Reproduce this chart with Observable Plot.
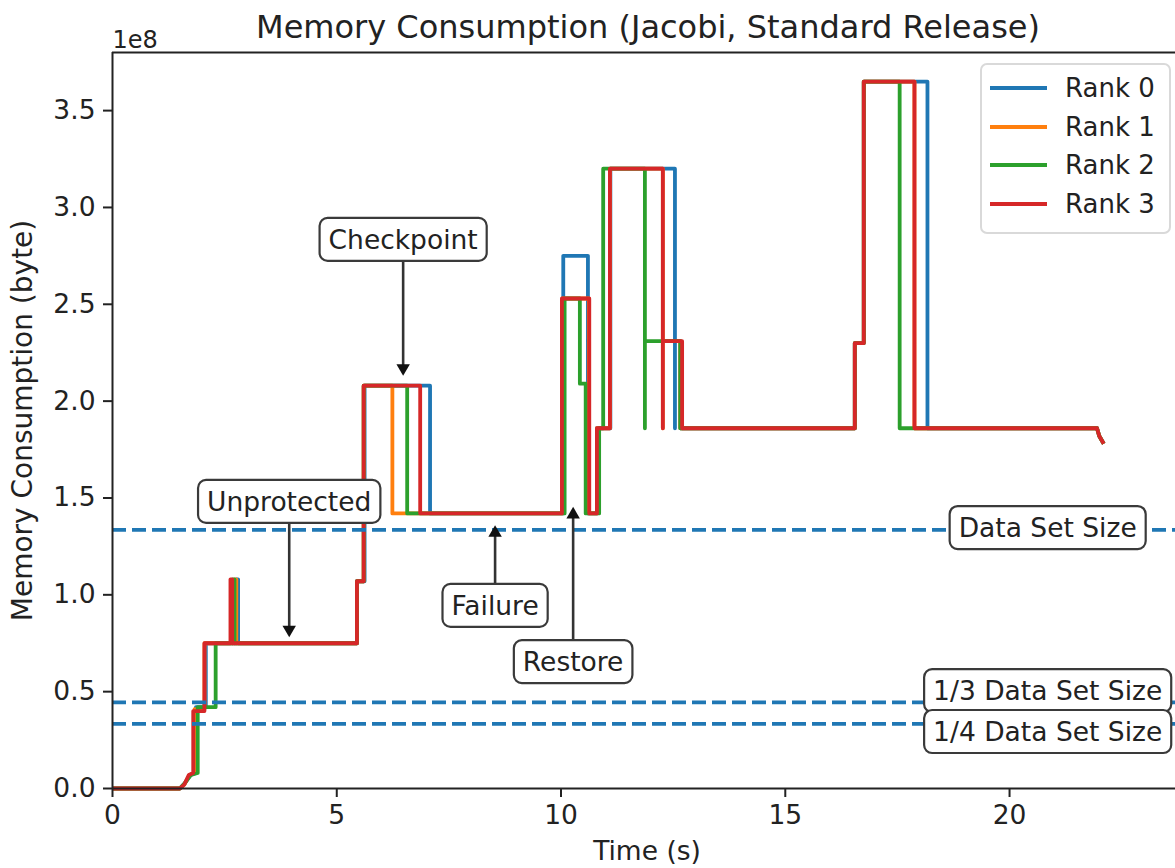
<!DOCTYPE html>
<html><head><meta charset="utf-8">
<script src="https://cdn.jsdelivr.net/npm/d3@7"></script>
<script src="https://cdn.jsdelivr.net/npm/@observablehq/plot@0.6"></script>
<style>
html,body{margin:0;padding:0;background:#fff;overflow:hidden;}
#wrap{position:relative;width:1175px;height:868px;}
#legend{position:absolute;left:980px;top:63px;width:187px;height:167px;border:2px solid #d9d9d9;border-radius:7px;background:rgba(255,255,255,0.8);font-family:"DejaVu Sans";font-size:26px;color:#222;}
.row{position:absolute;left:0;width:186px;height:30px;}
.sw{position:absolute;left:8px;top:13px;width:57px;height:4px;}
.lab{position:absolute;left:83px;top:0;line-height:30px;white-space:nowrap;}
</style></head>
<body><div id="wrap"><div id="chart"></div><div id="legend"></div></div>
<script>
const rankNames = ["Rank 0", "Rank 1", "Rank 2", "Rank 3"];
const rankColors = ["#1f77b4", "#ff7f0e", "#2ca02c", "#d62728"];

// values in units of 1e8 bytes
const rank0T = [0, 1.5, 1.62, 1.74, 1.86, 1.86, 2.08, 2.08, 2.76, 2.76, 2.8, 2.8, 5.45, 5.45, 5.62, 5.62, 7.08, 7.08, 10.05, 10.05, 10.6, 10.6, 10.8, 10.8, 11.1, 11.1, 12.54, 12.54, 12.54, 12.66, 12.66, 16.55, 16.55, 16.75, 16.75, 18.17, 18.17, 21.95, 22.0, 22.1];
const rank0V = [0, 0, 0.03, 0.07, 0.08, 0.42, 0.42, 0.75, 0.75, 1.08, 1.08, 0.75, 0.75, 1.07, 1.07, 2.08, 2.08, 1.42, 1.42, 2.75, 2.75, 1.42, 1.42, 1.86, 1.86, 3.2, 3.2, 1.86, 2.31, 2.31, 1.86, 1.86, 2.3, 2.3, 3.65, 3.65, 1.86, 1.86, 1.82, 1.78];

const rank1T = [0, 1.5, 1.6, 1.72, 1.83, 1.83, 2.05, 2.05, 2.72, 2.72, 2.76, 2.76, 5.45, 5.45, 5.6, 5.6, 6.24, 6.24, 10.03, 10.03, 10.62, 10.62, 10.8, 10.8, 11.09, 11.09, 12.27, 12.27, 12.27, 12.66, 12.66, 16.55, 16.55, 16.75, 16.75, 17.88, 17.88, 21.95, 22.0, 22.1];
const rank1V = [0, 0, 0.02, 0.07, 0.08, 0.41, 0.41, 0.75, 0.75, 1.08, 1.08, 0.75, 0.75, 1.07, 1.07, 2.08, 2.08, 1.42, 1.42, 2.53, 2.53, 1.42, 1.42, 1.86, 1.86, 3.2, 3.2, 1.86, 2.31, 2.31, 1.86, 1.86, 2.3, 2.3, 3.65, 3.65, 1.86, 1.86, 1.82, 1.78];

const rank2T = [0, 1.5, 1.62, 1.75, 1.9, 1.9, 2.3, 2.3, 2.68, 2.68, 2.72, 2.72, 5.45, 5.45, 5.6, 5.6, 6.57, 6.57, 10.08, 10.08, 10.42, 10.42, 10.55, 10.55, 10.85, 10.85, 10.94, 10.94, 11.87, 11.87, 11.87, 12.66, 12.66, 16.55, 16.55, 16.75, 16.75, 17.55, 17.55, 21.95, 22.0, 22.1];
const rank2V = [0, 0, 0.03, 0.07, 0.08, 0.42, 0.42, 0.75, 0.75, 1.08, 1.08, 0.75, 0.75, 1.07, 1.07, 2.08, 2.08, 1.42, 1.42, 2.53, 2.53, 2.09, 2.09, 1.42, 1.42, 1.86, 1.86, 3.2, 3.2, 1.86, 2.31, 2.31, 1.86, 1.86, 2.3, 2.3, 3.65, 3.65, 1.86, 1.86, 1.82, 1.78];

const rank3T = [0, 1.5, 1.6, 1.7, 1.8, 1.8, 2.05, 2.05, 2.63, 2.63, 2.67, 2.67, 5.45, 5.45, 5.6, 5.6, 6.86, 6.86, 10.02, 10.02, 10.63, 10.63, 10.8, 10.8, 11.09, 11.09, 12.27, 12.27, 12.27, 12.7, 12.7, 16.55, 16.55, 16.75, 16.75, 17.88, 17.88, 21.95, 22.0, 22.1];
const rank3V = [0, 0, 0.02, 0.07, 0.08, 0.40, 0.40, 0.75, 0.75, 1.08, 1.08, 0.75, 0.75, 1.07, 1.07, 2.08, 2.08, 1.42, 1.42, 2.53, 2.53, 1.42, 1.42, 1.86, 1.86, 3.2, 3.2, 1.86, 2.31, 2.31, 1.86, 1.86, 2.3, 2.3, 3.65, 3.65, 1.86, 1.86, 1.82, 1.78];

const refLabels = ["Data Set Size", "1/3 Data Set Size", "1/4 Data Set Size"];
const refValues = [1.335, 0.445, 0.334];
const refLabelX = [20.85, 20.85, 20.85];
const refLabelY = [1.342, 0.50, 0.289];

const annotLabels = ["Checkpoint", "Unprotected", "Failure", "Restore"];
const annotTextX = [6.48, 3.94, 8.53, 10.27];
const annotTextY = [2.83, 1.477, 0.94, 0.65];
const annotTipY = [2.15, 0.80, 1.34, 1.435];

const xTicks = [0, 5, 10, 15, 20];
const yTicks = [0, 0.5, 1.0, 1.5, 2.0, 2.5, 3.0, 3.5];
const xDomain = [0, 23.7];
const yDomain = [0, 3.8];

const titleText = "Memory Consumption (Jacobi, Standard Release)";
const xLabel = "Time (s)";
const yLabel = "Memory Consumption (byte)";
const offsetText = "1e8";

const seriesT = [rank0T, rank1T, rank2T, rank3T];
const seriesV = [rank0V, rank1V, rank2V, rank3V];
const rows = rankNames.flatMap((r, i) => seriesT[i].map((t, j) => ({rank: r, t, v: seriesV[i][j]})));
const refs = refLabels.map((l, i) => ({label: l, value: refValues[i], x: refLabelX[i], y: refLabelY[i]}));
const annots = annotLabels.map((l, i) => ({label: l, tx: annotTextX[i], ty: annotTextY[i], ax: annotTextX[i], ay: annotTipY[i]}));

const ink = "#222";
const fs = 26.5;
const svg = Plot.plot({
  width: 1175, height: 868,
  marginLeft: 112, marginRight: 0, marginTop: 52, marginBottom: 80,
  x: {domain: xDomain},
  y: {domain: yDomain},
  color: {domain: rankNames, range: rankColors},
  style: {fontFamily: "DejaVu Sans", fontSize: fs + "px", color: ink, background: "white"},
  marks: [
    Plot.line(rows, {x: "t", y: "v", z: "rank", stroke: "rank", strokeWidth: 3.8, strokeLinejoin: "round", strokeLinecap: "butt"}),
    Plot.ruleY(refs, {y: "value", stroke: "#1f77b4", strokeWidth: 3.8, strokeDasharray: "14,6"}),
    Plot.ruleX([xDomain[0]], {stroke: ink, strokeWidth: 2}),
    Plot.ruleY(yDomain, {stroke: ink, strokeWidth: 2}),
    Plot.axisX({ticks: xTicks, tickSize: 9, tickPadding: 8, strokeWidth: 2, stroke: ink, fill: ink, fontSize: fs, label: null}),
    Plot.axisY({ticks: yTicks, tickSize: 9, tickPadding: 8, strokeWidth: 2, stroke: ink, fill: ink, fontSize: fs, label: null, tickFormat: d3.format(".1f")}),
    Plot.link(annots, {x1: "tx", y1: "ty", x2: "ax", y2: "ay", stroke: "#333", strokeWidth: 2.6}),
    Plot.dot(annots.filter(d => d.ay < d.ty), {x: "ax", y: "ay", symbol: "triangle", r: 5, fill: "#111", stroke: "none", rotate: 180, dy: -4}),
    Plot.dot(annots.filter(d => d.ay > d.ty), {x: "ax", y: "ay", symbol: "triangle", r: 5, fill: "#111", stroke: "none", dy: 4}),
    Plot.text(annots, {x: "tx", y: "ty", text: "label", fontSize: fs, fill: ink, ariaDescription: "boxed"}),
    Plot.text(refs, {x: "x", y: "y", text: "label", fontSize: fs, fill: ink, ariaDescription: "boxed"}),
    Plot.text([titleText], {text: d => d, frameAnchor: "top", lineAnchor: "middle", textAnchor: "middle", dy: -25, dx: 4, fontSize: 32, fill: ink}),
    Plot.text([offsetText], {text: d => d, frameAnchor: "top-left", lineAnchor: "middle", textAnchor: "start", dy: -12, fontSize: 24, fill: ink}),
    Plot.text([xLabel], {text: d => d, frameAnchor: "bottom", lineAnchor: "middle", textAnchor: "middle", dy: 63, dx: 3, fontSize: fs, fill: ink}),
    Plot.text([yLabel], {text: d => d, frameAnchor: "left", lineAnchor: "middle", textAnchor: "middle", dx: -89, rotate: -90, fontSize: 28, fill: ink})
  ]
});
svg.style.maxWidth = "none";
document.getElementById("chart").append(svg);

// rounded boxes behind boxed labels
const NS = "http://www.w3.org/2000/svg";
svg.querySelectorAll('g[aria-description="boxed"] text').forEach(t => {
  const b = t.getBBox();
  const r = document.createElementNS(NS, "rect");
  const px = 9, py = 6;
  r.setAttribute("x", b.x - px);
  r.setAttribute("y", b.y - py);
  r.setAttribute("width", b.width + 2 * px);
  r.setAttribute("height", b.height + 2 * py);
  r.setAttribute("rx", 8);
  r.setAttribute("fill", "white");
  r.setAttribute("stroke", "#3a3a3a");
  r.setAttribute("stroke-width", 2.2);
  if (t.getAttribute("transform")) r.setAttribute("transform", t.getAttribute("transform"));
  t.parentNode.insertBefore(r, t);
});

// legend
const legend = document.getElementById("legend");
rankNames.forEach((name, i) => {
  const row = document.createElement("div");
  row.className = "row";
  row.style.top = (8 + i * 38.7) + "px";
  const sw = document.createElement("div");
  sw.className = "sw";
  sw.style.background = rankColors[i];
  const lab = document.createElement("div");
  lab.className = "lab";
  lab.textContent = name;
  row.append(sw, lab);
  legend.append(row);
});
</script></body></html>
